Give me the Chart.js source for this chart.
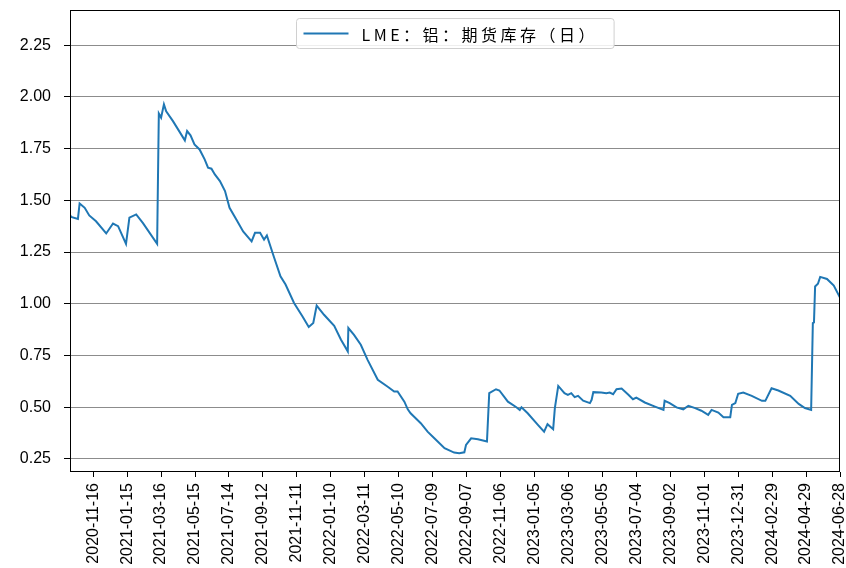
<!DOCTYPE html>
<html><head><meta charset="utf-8">
<script src="https://cdn.jsdelivr.net/npm/chart.js@4.4.1/dist/chart.umd.min.js"></script>
<style>html,body{margin:0;padding:0;background:#fff}#wrap{width:846px;height:568px;position:relative}</style>
</head><body><div id="wrap"><canvas id="c"></canvas></div>
<script>
const seriesName = 'LME：铝：期货库存（日）';
const baseDate = '2020-11-16';
// days after baseDate
const dayOffsets = [-41,-39,-27,-24,-15,-7,5,23,35,44,58,64,76,88,113,116,120,125,129,141,162,166,172,179,188,197,203,209,215,224,233,241,253,265,280,286,295,302,307,319,331,340,355,370,381,389,395,408,426,438,450,451,461,473,485,503,520,532,538,550,556,561,570,579,591,603,621,638,647,656,659,668,680,696,700,712,718,733,748,754,757,768,786,797,803,813,816,822,833,839,845,851,857,866,878,881,884,898,907,913,919,925,934,946,954,960,975,993,1008,1010,1019,1031,1043,1052,1064,1075,1087,1093,1105,1114,1126,1129,1135,1140,1149,1164,1182,1188,1199,1211,1232,1247,1258,1269,1272,1274,1276,1281,1285,1297,1309,1320];
const stockValues = [1.43,1.42,1.41,1.485,1.464,1.427,1.399,1.34,1.388,1.375,1.29,1.416,1.432,1.39,1.29,1.92,1.90,1.964,1.93,1.883,1.79,1.835,1.814,1.77,1.746,1.698,1.658,1.653,1.625,1.593,1.545,1.464,1.407,1.35,1.302,1.343,1.343,1.31,1.33,1.23,1.133,1.093,1.004,0.939,0.888,0.907,0.991,0.947,0.894,0.826,0.77,0.883,0.85,0.802,0.729,0.633,0.60,0.576,0.576,0.527,0.49,0.471,0.447,0.423,0.382,0.35,0.302,0.281,0.278,0.282,0.318,0.35,0.345,0.334,0.568,0.587,0.581,0.527,0.50,0.487,0.50,0.471,0.415,0.382,0.418,0.394,0.496,0.603,0.568,0.56,0.568,0.549,0.555,0.532,0.52,0.536,0.573,0.571,0.568,0.571,0.563,0.587,0.59,0.56,0.539,0.547,0.523,0.503,0.487,0.531,0.52,0.499,0.49,0.507,0.496,0.483,0.463,0.487,0.474,0.452,0.452,0.511,0.52,0.565,0.571,0.555,0.531,0.531,0.592,0.581,0.555,0.516,0.496,0.487,0.907,0.91,1.084,1.097,1.13,1.12,1.088,1.03];
const xTickLabels = ['2020-11-16','2021-01-15','2021-03-16','2021-05-15','2021-07-14','2021-09-12','2021-11-11','2022-01-10','2022-03-11','2022-05-10','2022-07-09','2022-09-07','2022-11-06','2023-01-05','2023-03-06','2023-05-05','2023-07-04','2023-09-02','2023-11-01','2023-12-31','2024-02-29','2024-04-29','2024-06-28'];
const yTickValues = [0.25,0.50,0.75,1.00,1.25,1.50,1.75,2.00,2.25];

const dayOf = s => Math.round((Date.parse(s) - Date.parse(baseDate)) / 86400000);
const xTickValues = xTickLabels.map(dayOf);

const frame = {
  id: 'frame',
  afterDatasetsDraw(chart) {
    const ctx = chart.ctx, a = chart.chartArea;
    ctx.save();
    ctx.strokeStyle = '#000'; ctx.lineWidth = 1;
    ctx.strokeRect(Math.round(a.left) + 0.5, Math.round(a.top) + 0.5, Math.round(a.right - a.left) - 1, Math.round(a.bottom - a.top) - 1);
    ctx.restore();
  }
};
const legendBox = {
  id: 'legendBox',
  afterDraw(chart) {
    const ctx = chart.ctx, a = chart.chartArea;
    const label = chart.data.datasets[0].label;
    ctx.save();
    ctx.font = '16px "Noto Sans CJK SC"';
    ctx.letterSpacing = '3.5px';
    const tw = ctx.measureText(label).width;
    const padL = 7, lineW = 45, gap = 13, padR = 16, H = 30;
    const W = padL + lineW + gap + tw + padR;
    const x0 = Math.round((a.left + a.right) / 2 - W / 2) + 0.5, y0 = Math.round(a.top) + 8.5;
    ctx.beginPath(); ctx.roundRect(x0, y0, W, H, 3);
    ctx.fillStyle = 'rgba(255,255,255,0.85)'; ctx.fill();
    ctx.strokeStyle = '#d0d0d0'; ctx.lineWidth = 1; ctx.stroke();
    ctx.beginPath(); ctx.moveTo(x0 + padL, y0 + H / 2); ctx.lineTo(x0 + padL + lineW, y0 + H / 2);
    ctx.strokeStyle = '#1f77b4'; ctx.lineWidth = 2; ctx.stroke();
    ctx.fillStyle = '#000'; ctx.textBaseline = 'middle'; ctx.textAlign = 'left';
    ctx.fillText(label, x0 + padL + lineW + gap, y0 + H / 2 + 1);
    ctx.restore();
  }
};

new Chart(document.getElementById('c'), {
  type: 'line',
  data: {
    datasets: [{
      label: seriesName,
      data: dayOffsets.map((d, i) => ({ x: d, y: stockValues[i] })),
      borderColor: '#1f77b4', borderWidth: 2, pointRadius: 0, tension: 0, fill: false
    }]
  },
  options: {
    responsive: true, maintainAspectRatio: false, animation: false,
    layout: { padding: { top: 10, right: 6, left: 0, bottom: 0 } },
    plugins: { legend: { display: false }, tooltip: { enabled: false } },
    scales: {
      x: {
        type: 'linear', min: -41, max: 1320,
        afterBuildTicks: s => { s.ticks = xTickValues.map(v => ({ value: v })); },
        afterFit: s => { s.height = 96; s.paddingLeft = 0; s.paddingRight = 0; },
        ticks: {
          autoSkip: false, minRotation: 90, maxRotation: 90, padding: 6,
          color: '#000', font: { family: '"Liberation Sans", Arial, sans-serif', size: 16 },
          callback: (v, i) => xTickLabels[i]
        },
        grid: { drawOnChartArea: false, tickLength: 5, tickColor: '#000', lineWidth: 1 },
        border: { display: false }
      },
      y: {
        type: 'linear', min: 0.187, max: 2.42,
        afterBuildTicks: s => { s.ticks = yTickValues.map(v => ({ value: v })); },
        afterFit: s => { s.width = 70; s.paddingTop = 0; s.paddingBottom = 0; },
        ticks: {
          padding: 13, color: '#000', font: { family: '"Liberation Sans", Arial, sans-serif', size: 16 },
          callback: v => v.toFixed(2)
        },
        grid: { color: '#8c8c8c', tickColor: '#000', tickLength: 6, lineWidth: 1 },
        border: { display: false }
      }
    }
  },
  plugins: [frame, legendBox]
});
</script></body></html>
